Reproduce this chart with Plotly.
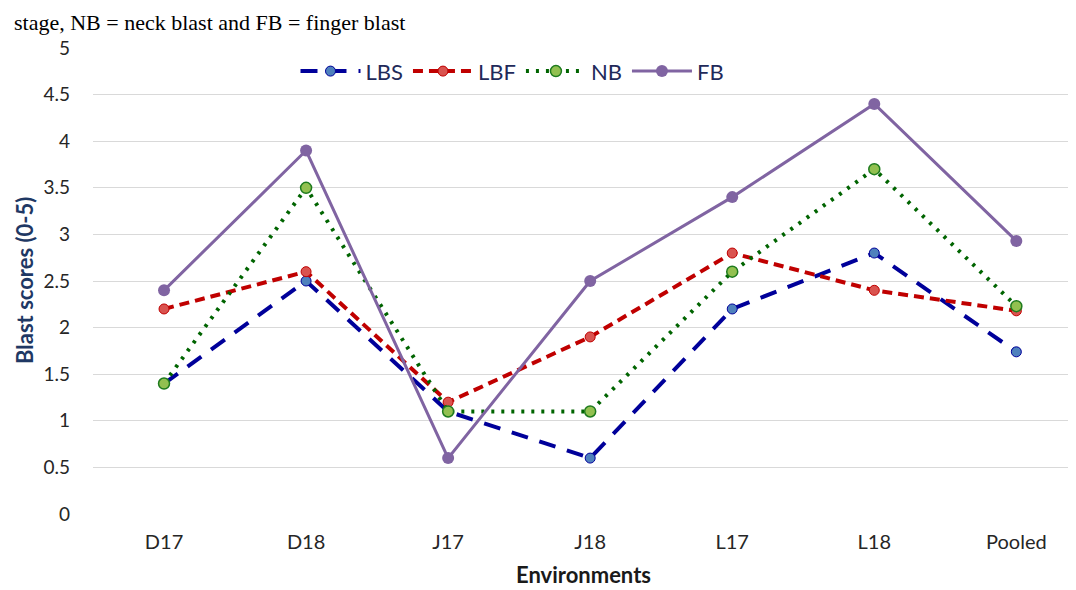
import plotly.graph_objects as go

categories = ["D17", "D18", "J17", "J18", "L17", "L18", "Pooled"]
lbs = [1.4, 2.5, 1.1, 0.6, 2.2, 2.8, 1.74]
lbf = [2.2, 2.6, 1.2, 1.9, 2.8, 2.4, 2.18]
nb = [1.4, 3.5, 1.1, 1.1, 2.6, 3.7, 2.23]
fb = [2.4, 3.9, 0.6, 2.5, 3.4, 4.4, 2.93]
y_ticks = [0, 0.5, 1, 1.5, 2, 2.5, 3, 3.5, 4, 4.5, 5]
y_tick_text = ["0", "0.5", "1", "1.5", "2", "2.5", "3", "3.5", "4", "4.5", "5"]

FONT = "Lato, 'Open Sans', sans-serif"

fig = go.Figure()
fig.add_trace(go.Scatter(
    x=categories, y=lbs, name="LBS", mode="lines+markers",
    line=dict(color="#00009A", width=4, dash="17px,12px"),
    marker=dict(size=10, color="#4F81BD", line=dict(color="#00009A", width=1)),
))
fig.add_trace(go.Scatter(
    x=categories, y=lbf, name="LBF", mode="lines+markers",
    line=dict(color="#C00000", width=4, dash="10px,6px"),
    marker=dict(size=10, color="#D9534F", line=dict(color="#C00000", width=1)),
))
fig.add_trace(go.Scatter(
    x=categories, y=nb, name="NB", mode="lines+markers",
    line=dict(color="#006400", width=4, dash="3px,7px"),
    marker=dict(size=11, color="#92C050", line=dict(color="#1E7B1E", width=1.5)),
))
fig.add_trace(go.Scatter(
    x=categories, y=fb, name="FB", mode="lines+markers",
    line=dict(color="#8064A2", width=3),
    marker=dict(size=12, color="#8064A2"),
))

fig.update_layout(
    width=1068, height=582,
    margin=dict(l=85, r=0, t=40, b=76, autoexpand=False),
    paper_bgcolor="white", plot_bgcolor="white",
    font=dict(family=FONT, size=17, color="#404040"),
    showlegend=True,
    legend=dict(
        orientation="h", x=0.206, y=0.95, xanchor="left", yanchor="middle",
        font=dict(family=FONT, size=22, color="#1F2A5A"),
        bgcolor="rgba(0,0,0,0)", itemwidth=60,
    ),
    xaxis=dict(
        range=[-0.5, 6.42], showgrid=False, showline=False, zeroline=False,
        ticks="", ticklabelstandoff=14, tickfont=dict(size=20, color="#262626"),
        automargin=False,
    ),
    yaxis=dict(
        range=[0, 5], tickvals=y_ticks, ticktext=y_tick_text,
        showgrid=True, gridcolor="#D9D9D9", gridwidth=1.2, zeroline=False, showline=False,
        ticks="", ticklabelstandoff=22, tickfont=dict(size=19, color="#262626"),
        automargin=False,
    ),
    annotations=[
        dict(text="<b>Blast scores (0-5)</b>", xref="paper", yref="paper", x=0, y=0.50,
             xanchor="center", yanchor="middle", textangle=-90, showarrow=False,
             xshift=-69, font=dict(family=FONT, size=22, color="#1F3864")),
        dict(text="<b>Environments</b>", xref="paper", yref="paper", x=0.5, y=0,
             xanchor="center", yanchor="middle", showarrow=False,
             xshift=-1, yshift=-60, font=dict(family=FONT, size=22, color="#1a1a1a")),
        dict(text="stage, NB = neck blast and FB = finger blast", xref="paper", yref="paper",
             x=0, y=1, xanchor="left", yanchor="top", xshift=-81, yshift=40, showarrow=False,
             font=dict(family="'Liberation Serif', 'Times New Roman', serif", size=22, color="#000000")),
    ],
)

fig.write_html("out.html")
